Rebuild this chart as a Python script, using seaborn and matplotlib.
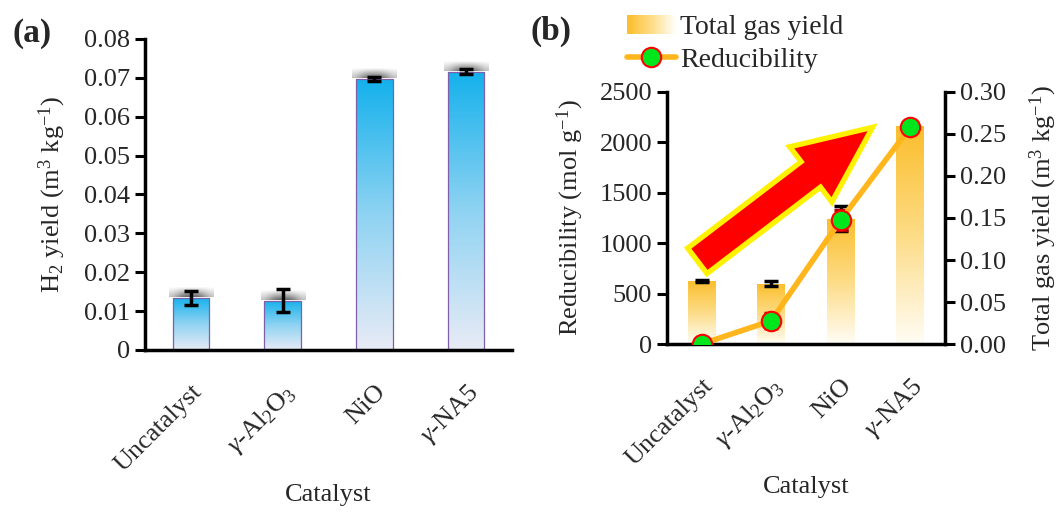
import numpy as np
import pandas as pd
import matplotlib
matplotlib.use('Agg')
import matplotlib.pyplot as plt
import seaborn as sns
from matplotlib.colors import LinearSegmentedColormap
from matplotlib.legend_handler import HandlerBase
from matplotlib.patches import Rectangle
from matplotlib.lines import Line2D

# ---------------- data ----------------
categories = ['Uncatalyst', r'$\gamma$-Al$_2$O$_3$', 'NiO', r'$\gamma$-NA5']
h2_yield = [0.0135, 0.0127, 0.0697, 0.0716]
h2_err = [0.0018, 0.0030, 0.0005, 0.0006]
gas_yield = [0.075, 0.072, 0.149, 0.259]
gas_err = [0.001, 0.0035, 0.015, 0.003]
reducibility = [0, 230, 1230, 2150]
reducibility_err = [10, 75, 100, 60]
h2_ticks = [0, 0.01, 0.02, 0.03, 0.04, 0.05, 0.06, 0.07, 0.08]
h2_ticklabels = ['0', '0.01', '0.02', '0.03', '0.04', '0.05', '0.06', '0.07', '0.08']
red_ticks = [0, 500, 1000, 1500, 2000, 2500]
gas_ticks = [0, 0.05, 0.10, 0.15, 0.20, 0.25, 0.30]
gas_ticklabels = ['0.00', '0.05', '0.10', '0.15', '0.20', '0.25', '0.30']

# ---------------- style ----------------
sns.set_theme(style='ticks')
plt.rcParams['font.family'] = ['Liberation Serif', 'DejaVu Serif']
plt.rcParams['mathtext.fontset'] = 'custom'
plt.rcParams['mathtext.rm'] = 'Liberation Serif'
plt.rcParams['mathtext.it'] = 'Liberation Serif:italic'
plt.rcParams['mathtext.bf'] = 'Liberation Serif:bold'
plt.rcParams['axes.unicode_minus'] = False

FS = 19
blue_cmap = LinearSegmentedColormap.from_list('blue', ['#E8EBF6', '#8FD3F2', '#14B1EC'])
orange_cmap = LinearSegmentedColormap.from_list('orange', ['#FFFDF6', '#FDDC86', '#FBBE2C'])
grad = np.linspace(0, 1, 256).reshape(-1, 1)

fig = plt.figure(figsize=(10.6, 5.15), dpi=100)
axa = fig.add_axes([0.1368, 0.3204, 0.3462, 0.6039])
axb = fig.add_axes([0.629, 0.332, 0.2625, 0.4894])


def gradient_bars(ax, cmap, shadow=False):
    for p in ax.patches:
        x0, w, h = p.get_x(), p.get_width(), p.get_height()
        im = ax.imshow(grad, extent=[x0, x0 + w, 0, h], aspect='auto', cmap=cmap,
                       origin='lower', zorder=0.9, interpolation='bilinear')
        im.set_clip_path(p)
        p.set_facecolor('none')
        if shadow:
            rgba = np.zeros((64, 5, 4))
            rgba[..., :3] = 0.28
            a = np.linspace(0.9, 0.0, 64)
            side = np.array([0.35, 0.9, 1.0, 0.9, 0.35])
            rgba[..., 3] = a[:, None] * side[None, :]
            ax.imshow(rgba, extent=[x0 - 0.04, x0 + w + 0.04, h + 0.0002, h + 0.0027],
                      aspect='auto', origin='lower', zorder=0.8, interpolation='bicubic')


def style_axis(ax):
    for s in ['left', 'bottom', 'right']:
        ax.spines[s].set_linewidth(2.5)
        ax.spines[s].set_color('black')
    ax.tick_params(axis='both', length=7, width=2.2, labelsize=FS, color='black')


# ---------------- panel (a) ----------------
df_a = pd.DataFrame({'Catalyst': categories, 'H2': h2_yield})
sns.barplot(data=df_a, x='Catalyst', y='H2', ax=axa, width=0.4, color='#14B1EC',
            edgecolor='#7E5FA8', linewidth=0.9)
gradient_bars(axa, blue_cmap, shadow=True)
centers_a = [p.get_x() + p.get_width() / 2 for p in axa.patches]
axa.errorbar(centers_a, h2_yield, yerr=h2_err, fmt='none', ecolor='black',
             elinewidth=2.5, capsize=5, capthick=2.5, zorder=3)
axa.set_xlim(-0.5, 3.5)
axa.set_ylim(0, 0.08)
axa.set_yticks(h2_ticks)
axa.set_yticklabels(h2_ticklabels)
sns.despine(ax=axa)
style_axis(axa)
axa.tick_params(axis='x', length=0, pad=22)
axa.set_xticks(range(len(categories)))
axa.set_xticklabels(categories, rotation=45, ha='right', rotation_mode='anchor')
axa.set_xlabel('Catalyst', fontsize=FS, labelpad=6)
axa.set_ylabel(r'H$_2$ yield (m$^3$ kg$^{-1}$)', fontsize=FS, labelpad=12)
fig.text(0.012, 0.935, '(a)', fontsize=24, fontweight='bold', va='center', ha='left')

# ---------------- panel (b) ----------------
df_b = pd.DataFrame({'Catalyst': categories, 'Gas': gas_yield})
sns.barplot(data=df_b, x='Catalyst', y='Gas', ax=axb, width=0.4, color='#FBBE2C',
            edgecolor='none', linewidth=0)
gradient_bars(axb, orange_cmap)
centers_b = [p.get_x() + p.get_width() / 2 for p in axb.patches]
axb.errorbar(centers_b, gas_yield, yerr=gas_err, fmt='none', ecolor='black',
             elinewidth=2.5, capsize=5, capthick=2.5, zorder=3)
axb.set_xlim(-0.5, 3.5)
axb.set_ylim(0, 0.30)
axb.set_yticks(gas_ticks)
axb.set_yticklabels(gas_ticklabels)

ax2 = axb.twinx()
# bars' axis on the right, line's axis on the left
axb.yaxis.tick_right()
axb.yaxis.set_label_position('right')
ax2.yaxis.tick_left()
ax2.yaxis.set_label_position('left')

axb.set_ylabel(r'Total gas yield (m$^3$ kg$^{-1}$)', fontsize=FS, labelpad=16)
style_axis(axb)
axb.spines['top'].set_visible(False)
axb.spines['left'].set_visible(False)
axb.tick_params(axis='x', length=0, pad=22)
axb.set_xticks(range(len(categories)))
axb.set_xticklabels(categories, rotation=45, ha='right', rotation_mode='anchor')
axb.set_xlabel('Catalyst', fontsize=FS, labelpad=4)

ax2.errorbar(centers_b, reducibility, yerr=reducibility_err, fmt='none', ecolor='#B00000',
             elinewidth=2.5, capsize=5, capthick=2.5, zorder=2)
sns.lineplot(x=centers_b, y=reducibility, ax=ax2, color='#FFB61C', linewidth=4,
             marker='o', markersize=14, markerfacecolor='#00E61C', markeredgecolor='red',
             markeredgewidth=1.5, legend=False, zorder=3)
ax2.set_ylim(0, 2500)
ax2.set_yticks(red_ticks)
ax2.set_ylabel(r'Reducibility (mol g$^{-1}$)', fontsize=FS, labelpad=10)
style_axis(ax2)
ax2.spines['top'].set_visible(False)
ax2.spines['right'].set_visible(False)
ax2.spines['bottom'].set_visible(False)

ax2.annotate('', xy=(0.74, 0.86), xytext=(0.11, 0.33), xycoords='axes fraction',
             textcoords='axes fraction',
             arrowprops=dict(arrowstyle='simple,tail_width=1.15,head_width=2.5,head_length=2.8',
                             mutation_scale=20, fc='red', ec='#FFF200', lw=3.8,
                             shrinkA=0, shrinkB=0, joinstyle='miter'),
             zorder=5)
fig.text(0.500, 0.94, '(b)', fontsize=24, fontweight='bold', va='center', ha='left')


class GradHandler(HandlerBase):
    def create_artists(self, legend, orig_handle, xdescent, ydescent, width, height,
                       fontsize, trans):
        n = 40
        arts = []
        for i in range(n):
            c = orange_cmap(1 - i / (n - 1))
            arts.append(Rectangle((-xdescent + i * width / n, -ydescent), width / n + 0.3,
                                  height, fc=c, ec='none', transform=trans))
        return arts


proxy_bar = Rectangle((0, 0), 1, 1)
proxy_line = Line2D([], [], color='#FFB61C', linewidth=4, marker='o', markersize=14,
                    markerfacecolor='#00E61C', markeredgecolor='red', markeredgewidth=1.5)
fig.legend([proxy_bar, proxy_line], ['Total gas yield', 'Reducibility'],
           handler_map={proxy_bar: GradHandler()}, loc='upper left',
           bbox_to_anchor=(0.568, 1.02), frameon=False, fontsize=20,
           handlelength=1.75, handletextpad=0.15, labelspacing=0.25)

fig.savefig('out.png', dpi=100)
